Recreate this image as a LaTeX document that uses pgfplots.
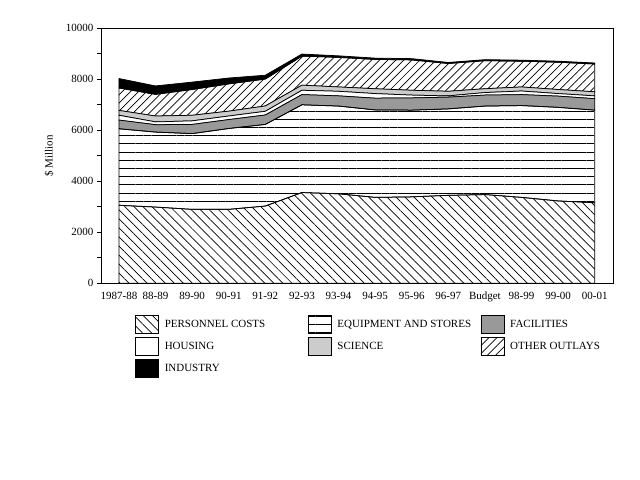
\documentclass[border=0pt]{standalone}
\usepackage{pgfplots}
\pgfplotsset{compat=1.18}
\usepackage{pgfplotstable}
\usetikzlibrary{patterns.meta}
\usepackage{fontspec}
\setmainfont{Liberation Serif}
\definecolor{facgray}{RGB}{153,153,153}
\definecolor{scigray}{RGB}{204,204,204}

\pgfplotstableread{
x  pers equip fac hous sci other ind
0  3060 3000  340 190  190 880   370
1  2990 2940  290 110  230 850   330
2  2900 2970  360 140  220 1010  290
3  2900 3170  350 140  190 1070  230
4  3030 3200  370 145  210 1055  150
5  3560 3440  400 170  200 1140  80
6  3510 3440  400 180  170 1160  60
7  3370 3430  460 180  190 1150  50
8  3390 3400  480 110  190 1190  50
9  3450 3390  460 50   180 1090  40
10 3480 3470  430 100  150 1100  40
11 3370 3600  430 140  160 1010  40
12 3230 3670  440 100  160 1070  40
13 3160 3630  450 110  160 1090  40
}\datatable

\begin{document}
\begin{tikzpicture}
\useasboundingbox (-101bp,-196.7bp) rectangle (539bp,283.3bp);
\begin{axis}[
  at={(0,0)}, anchor=south west,
  scale only axis, width=512bp, height=255bp,
  xmin=-0.49, xmax=13.5, ymin=0, ymax=10000,
  stack plots=y,
  axis on top,
  axis line style={line width=0.75bp},
  xtick={0,...,13},
  xticklabels={1987-88,88-89,89-90,90-91,91-92,92-93,93-94,94-95,95-96,96-97,Budget,98-99,99-00,00-01},
  x tick style={draw=none},
  x tick label style={yshift=-1.5bp},
  ytick={0,2000,...,10000},
  minor ytick={1000,3000,...,9000},
  scaled y ticks=false,
  ytick pos=left,
  tick align=outside,
  major tick length=4bp, minor tick length=4bp,
  y tick style={black, line width=0.75bp},
  y tick label style={/pgf/number format/1000 sep={}, /pgf/number format/assume math mode=true},
  ticklabel style={font=\fontsize{11bp}{13bp}\selectfont},
  ylabel={\$ Million},
  ylabel style={font=\fontsize{11bp}{13bp}\selectfont, at={(axis description cs:-0.1016,0.5)}, anchor=center},
  legend columns=3,
  legend cell align=left,
  legend style={at={(axis description cs:0.0664,-0.124)}, anchor=north west,
    draw=none, fill=none, inner sep=0pt, outer sep=0pt, row sep=3.5bp,
    font=\fontsize{11bp}{13bp}\selectfont,
    nodes={inner sep=0pt},
    /tikz/every odd column/.append style={column sep=6bp},
    /tikz/every even column/.append style={column sep=0bp}},
  legend image code/.code={\draw[#1, line width=0.75bp] (0bp,-9bp) rectangle (23bp,9bp);},
]
\addplot[draw=black, line width=0.75bp, no markers, pattern={Lines[angle=-45,distance=6.4bp,line width=0.7bp]}]
  table[x=x,y=pers]{\datatable} \closedcycle;
\addlegendentry{\makebox[143bp][l]{PERSONNEL COSTS}}
\addplot[draw=black, line width=0.75bp, no markers, pattern={Lines[angle=0,distance=8.2bp,line width=0.75bp]}]
  table[x=x,y=equip]{\datatable} \closedcycle;
\addlegendentry{\makebox[143bp][l]{EQUIPMENT AND STORES}}
\addplot[draw=black, line width=0.75bp, no markers, fill=facgray]
  table[x=x,y=fac]{\datatable} \closedcycle;
\addlegendentry{FACILITIES}
\addplot[draw=black, line width=0.75bp, no markers, fill=white]
  table[x=x,y=hous]{\datatable} \closedcycle;
\addlegendentry{\makebox[143bp][l]{HOUSING}}
\addplot[draw=black, line width=0.75bp, no markers, fill=scigray]
  table[x=x,y=sci]{\datatable} \closedcycle;
\addlegendentry{\makebox[143bp][l]{SCIENCE}}
\addplot[draw=black, line width=0.75bp, no markers, pattern={Lines[angle=45,distance=5.7bp,line width=0.7bp]}]
  table[x=x,y=other]{\datatable} \closedcycle;
\addlegendentry{OTHER OUTLAYS}
\addplot[draw=black, line width=0.75bp, no markers, fill=black]
  table[x=x,y=ind]{\datatable} \closedcycle;
\addlegendentry{INDUSTRY}
\end{axis}
\end{tikzpicture}
\end{document}
